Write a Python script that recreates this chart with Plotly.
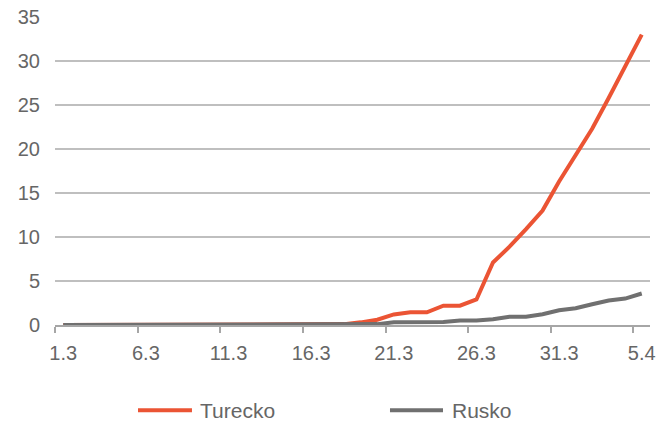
import pandas as pd
import plotly.graph_objects as go

# Daily categories 1.3 .. 5.4
days = pd.date_range("2020-03-01", "2020-04-05", freq="D")
categories = [f"{d.day}.{d.month}" for d in days]

# Cumulative values (thousands)
turecko = [0] * 17 + [0.1, 0.3, 0.6, 1.2, 1.45, 1.45, 2.2, 2.2, 2.9,
                      7.1, 8.9, 10.9, 13.0, 16.3, 19.3, 22.3, 25.8, 29.3, 33.0]
rusko = [0] * 19 + [0.1, 0.3, 0.3, 0.3, 0.35, 0.5, 0.5, 0.65,
                    0.93, 0.95, 1.23, 1.68, 1.9, 2.36, 2.78, 3.0, 3.58]

series_names = ["Turecko", "Rusko"]
colors = ["#EB5434", "#707070"]
text_color = "#666666"
font_family = "Liberation Sans, Arial, sans-serif"

fig = go.Figure()
for name, vals, col in zip(series_names, [turecko, rusko], colors):
    fig.add_trace(go.Scatter(
        x=categories, y=vals, mode="lines", name=name,
        line=dict(color=col, width=4), showlegend=False,
    ))

# Hand-built legend below the plot
legend_items = [
    (series_names[0], colors[0], 0.1395, 0.2302, 0.2403),
    (series_names[1], colors[1], 0.5630, 0.6521, 0.6639),
]
for name, col, x0, x1, xt in legend_items:
    fig.add_shape(type="line", xref="paper", yref="paper",
                  x0=x0, x1=x1, y0=-0.277, y1=-0.277,
                  line=dict(color=col, width=4))
    fig.add_annotation(text=name, xref="paper", yref="paper",
                       x=xt, y=-0.277, xanchor="left", yanchor="middle",
                       showarrow=False,
                       font=dict(size=21, color=text_color, family=font_family))

fig.update_layout(
    width=661, height=422,
    margin=dict(l=55, r=11, t=17, b=96.5, autoexpand=False),
    paper_bgcolor="white", plot_bgcolor="white",
    font=dict(family=font_family, size=20, color=text_color),
    xaxis=dict(
        type="category", categoryorder="array", categoryarray=categories,
        range=[-0.5, len(categories) - 0.5],
        tickmode="linear", tick0=0, dtick=5, tickangle=0,
        tickson="boundaries", ticks="outside", ticklen=6, tickwidth=1.5,
        tickcolor="#A6A6A6",
        showline=True, linecolor="#A6A6A6", linewidth=2,
        showgrid=False, zeroline=False, automargin=False,
        ticklabelstandoff=9,
    ),
    yaxis=dict(
        range=[0, 35], tickmode="linear", tick0=0, dtick=5,
        showgrid=True, gridcolor="#BFBFBF", gridwidth=1.5,
        zeroline=False, showline=False, ticks="", automargin=False,
        ticklabelstandoff=14,
    ),
)

fig.write_html("out.html")
